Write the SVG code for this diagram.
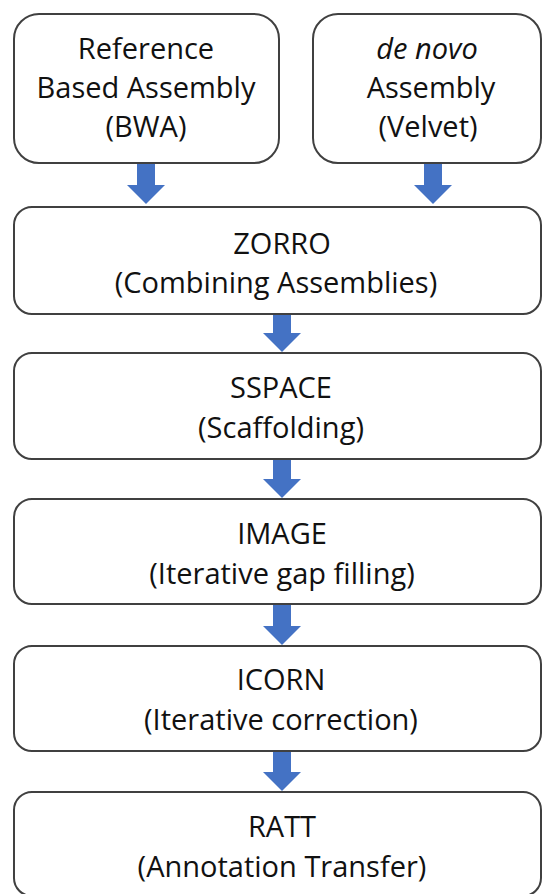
<svg xmlns="http://www.w3.org/2000/svg" width="542" height="894" viewBox="0 0 542 894">
  <style>
    .box { fill: #ffffff; stroke: #404040; stroke-width: 2; }
    .arrow { fill: #4472C4; stroke: none; }
    .t { font-family: "Open Sans", "Noto Sans", "Liberation Sans", sans-serif; font-size: 29px; fill: #111111; text-anchor: middle; }
    .it { font-style: italic; }
  </style>
  <rect width="542" height="894" fill="#ffffff"/>
  <g id="connectors">
    <polygon class="arrow" points="137,163 155,163 155,185 165,185 146,204 127,185 137,185"/>
    <polygon class="arrow" points="424,163 442,163 442,185 452,185 433,204 414,185 424,185"/>
    <polygon class="arrow" points="273,314 291,314 291,333 301,333 282,352 263,333 273,333"/>
    <polygon class="arrow" points="273,459 291,459 291,479 301,479 282,498 263,479 273,479"/>
    <polygon class="arrow" points="273,604 291,604 291,626 301,626 282,645 263,626 273,626"/>
    <polygon class="arrow" points="273,751 291,751 291,772 301,772 282,791 263,772 273,772"/>
  </g>
  <g id="ref-assembly">
    <rect class="box" x="14" y="14" width="265" height="149" rx="25" ry="25"/>
    <text class="t" x="146" y="59">Reference</text>
    <text class="t" x="146" y="98">Based Assembly</text>
    <text class="t" x="146" y="137">(BWA)</text>
  </g>
  <g id="denovo-assembly">
    <rect class="box" x="313" y="14" width="228" height="149" rx="25" ry="25"/>
    <text class="t it" x="427" y="59">de novo</text>
    <text class="t" x="431" y="98">Assembly</text>
    <text class="t" x="428" y="137">(Velvet)</text>
  </g>
  <g id="zorro">
    <rect class="box" x="14" y="207" width="527" height="107" rx="18" ry="18"/>
    <text class="t" x="282" y="254">ZORRO</text>
    <text class="t" x="276" y="293">(Combining Assemblies)</text>
  </g>
  <g id="sspace">
    <rect class="box" x="14" y="353" width="527" height="106" rx="18" ry="18"/>
    <text class="t" x="281" y="398">SSPACE</text>
    <text class="t" x="281" y="438">(Scaffolding)</text>
  </g>
  <g id="image">
    <rect class="box" x="14" y="499" width="527" height="105" rx="18" ry="18"/>
    <text class="t" x="282" y="544">IMAGE</text>
    <text class="t" x="282" y="584">(Iterative gap filling)</text>
  </g>
  <g id="icorn">
    <rect class="box" x="14" y="646" width="527" height="105" rx="18" ry="18"/>
    <text class="t" x="281" y="690">ICORN</text>
    <text class="t" x="281" y="730">(Iterative correction)</text>
  </g>
  <g id="ratt">
    <rect class="box" x="14" y="792" width="527" height="104" rx="18" ry="18"/>
    <text class="t" x="282" y="837">RATT</text>
    <text class="t" x="282" y="877">(Annotation Transfer)</text>
  </g>
</svg>
